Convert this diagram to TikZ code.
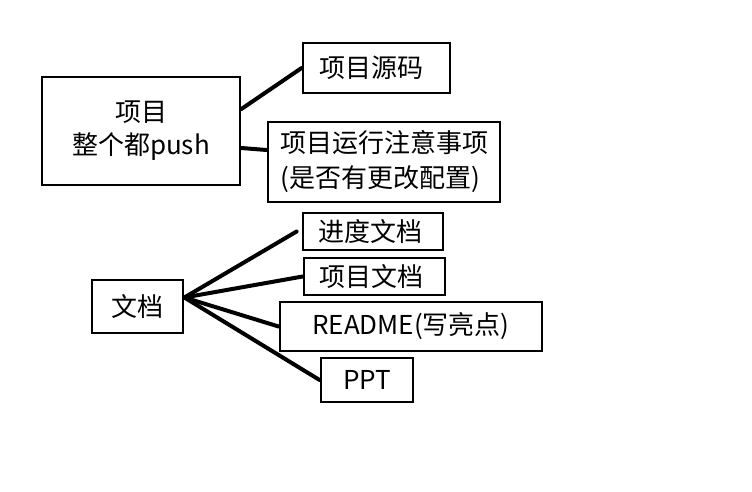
\documentclass[tikz,border=0pt]{standalone}
\usepackage{fontspec}
\setmainfont{Noto Sans CJK SC}
\begin{document}
\begin{tikzpicture}[x=1pt,y=-1pt,
  box/.style={draw=black,line width=2.8pt,rectangle,inner sep=0pt,align=center,
    font=\fontsize{26}{33}\selectfont},
  link/.style={line width=4pt,line cap=round}]
\useasboundingbox[fill=white] (0,0) rectangle (752,491);
\node[box,minimum width=198,minimum height=108] (proj) at (141,131) {项目\\整个都push};
\node[box,minimum width=147,minimum height=50] (src) at (376.5,68) {\hspace*{-10pt}项目源码};
\node[box,minimum width=232,minimum height=80,font=\fontsize{26}{35}\selectfont] (run) at (384,162) {项目运行注意事项\\\hspace*{-8pt}(是否有更改配置)};
\node[box,minimum width=91,minimum height=53] (doc) at (137.5,306.5) {文档};
\node[box,minimum width=140,minimum height=37] (prog) at (373,231.5) {\hspace*{-6pt}进度文档};
\node[box,minimum width=141,minimum height=37] (pdoc) at (374.5,276.5) {\hspace*{-6pt}项目文档};
\node[box,minimum width=262,minimum height=49] (readme) at (411,326.5) {README(写亮点)};
\node[box,minimum width=92,minimum height=44] (ppt) at (367,380) {PPT};
\coordinate (hub) at ([yshift=9]doc.east);
\draw[link] ([yshift=22]proj.east) -- (src.west);
\draw[link] ([yshift=-17]proj.east) -- ([yshift=12]run.west);
\draw[link] (hub) -- ([xshift=-5]prog.west);
\draw[link] (hub) -- (pdoc.west);
\draw[link] (hub) -- (readme.west);
\draw[link] (hub) -- (ppt.west);
\end{tikzpicture}
\end{document}
